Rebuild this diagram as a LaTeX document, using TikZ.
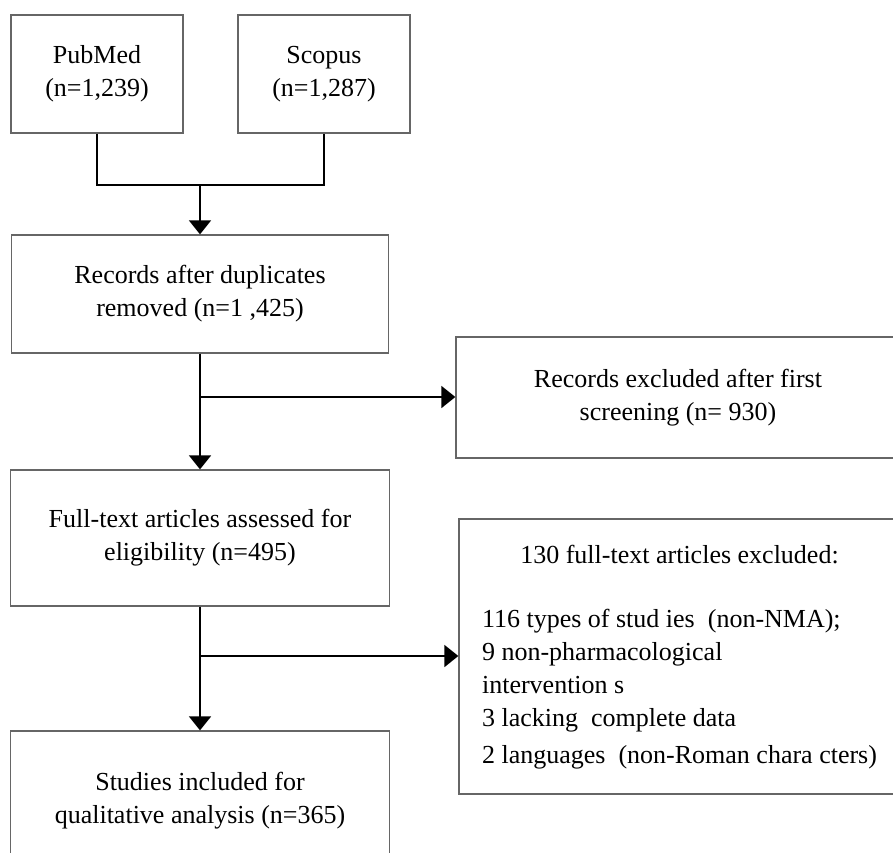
\documentclass[tikz,border=0pt]{standalone}
\usepackage{fontspec}
\setmainfont{Liberation Serif}
\usetikzlibrary{arrows.meta}
\tikzset{
    box/.style={draw=gray!80!black, line width=1.3pt, inner sep=0pt, align=center,
        font=\fontsize{26}{33}\selectfont},
    link/.style={line width=1.8pt},
    flow/.style={link, -{Triangle[width=22pt,length=14pt]}},
}
\begin{document}
\begin{tikzpicture}[x=1pt,y=-1pt]
    \useasboundingbox (0,0) rectangle (893,852);
    \clip (0,0) rectangle (893,852);
    % Sources
    \node[box, minimum width=172pt, minimum height=118pt] (pubmed) at (97,74) {PubMed\\(n=1,239)};
    \node[box, minimum width=172pt, minimum height=118pt] (scopus) at (324,74) {Scopus\\(n=1,287)};
    % Main column
    \node[box, minimum width=377pt, minimum height=118pt] (records) at (200,294) {Records after duplicates\\removed (n=1 ,425)};
    \node[box, minimum width=379pt, minimum height=136pt] (fulltext) at (200,538) {Full-text articles assessed for\\eligibility (n=495)};
    \node[box, minimum width=379pt, minimum height=139pt] (studies) at (200,800.5) {Studies included for\\qualitative analysis (n=365)};
    % Exclusions
    \node[box, minimum width=444pt, minimum height=121pt] (excl1) at (678,397.5) {Records excluded after first\\screening (n= 930)};
    \node[box, minimum width=441pt, minimum height=275pt] (excl2) at (679.5,656.5) {%
        \begin{tabular}{@{}l@{}}
            \multicolumn{1}{@{}c@{}}{130 full-text articles excluded:}\\[31pt]
            116 types of stud ies\ \ (non-NMA);\\
            9 non-pharmacological\\
            intervention s\\
            3 lacking\ \ complete data\\[4pt]
            2 languages\ \ (non-Roman chara cters)
        \end{tabular}};
    % Connectors
    \coordinate (merge) at (200,185);
    \coordinate (split1) at (200,397);
    \coordinate (split2) at (200,656);
    \draw[link] (pubmed.south) |- (merge) -| (scopus.south);
    \draw[flow] (merge) -- (records.north);
    \draw[flow] (records.south) -- (fulltext.north);
    \draw[flow] (split1) -- (split1 -| excl1.west);
    \draw[flow] (fulltext.south) -- (studies.north);
    \draw[flow] (split2) -- (split2 -| excl2.west);
\end{tikzpicture}
\end{document}
